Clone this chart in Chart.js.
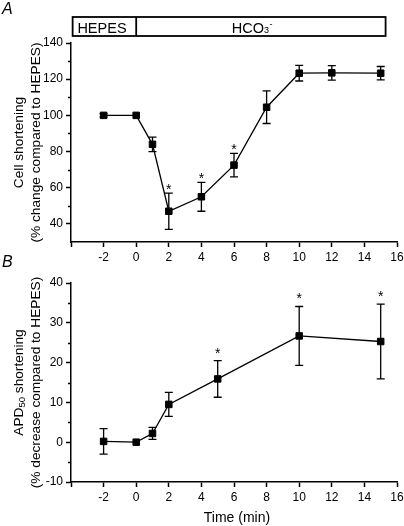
<!DOCTYPE html>
<html>
<head>
<meta charset="utf-8">
<script src="https://cdn.jsdelivr.net/npm/chart.js@4.4.0/dist/chart.umd.min.js"></script>
<style>
  html, body { margin: 0; padding: 0; background: #fff; overflow: hidden; width: 404px; height: 526px; }
  canvas { position: absolute; left: 0; top: 0; }
</style>
</head>
<body>
<canvas id="chartA" width="420" height="526"></canvas>
<canvas id="chartB" width="420" height="526"></canvas>
<script>
// panel A - cell shortening
const timeA = [-2, 0, 1, 2, 4, 6, 8, 10, 12, 15];
const shortA = [100, 100, 84, 47, 55, 72.5, 104.5, 123.3, 123.5, 123.3];
const semA = [1, 0, 4, 10, 8, 6.5, 9, 4.3, 4, 3.7];
const starsA = [2, 4, 6];

// panel B - APD50 shortening
const timeB = [-2, 0, 1, 2, 5, 10, 15];
const apdB = [0.2, 0, 2.2, 9.5, 15.9, 26.7, 25.3];
const semB = [3.2, 0, 1.5, 3, 4.6, 7.4, 9.4];
const starsB = [5, 10, 15];

const xTicks = [-4, -2, 0, 2, 4, 6, 8, 10, 12, 14, 16];
const xLabels = ['', '-2', '0', '2', '4', '6', '8', '10', '12', '14', '16'];
const yTicksA = [40, 60, 80, 100, 120, 140];
const yMinorA = [50, 70, 90, 110, 130];
const yTicksB = [-10, 0, 10, 20, 30, 40];
const yMinorB = [-5, 5, 15, 25, 35];

// solution bar over panel A
const phaseNames = ['HEPES', 'HCO3'];
const phaseEdges = [-3.9, 0, 15.3];
const phaseLabelAt = [-2.1, 7.1];

const FONT = '"Liberation Sans", Arial, sans-serif';

function axisOpts(min, max, ticks, labels) {
  return {
    type: 'linear',
    min: min,
    max: max,
    afterBuildTicks: s => { s.ticks = ticks.map(v => ({ value: v })); },
    ticks: {
      autoSkip: false,
      maxRotation: 0,
      padding: 3,
      color: '#000',
      font: { family: FONT, size: 12 },
      callback: (v, i) => labels ? labels[i] : String(v)
    },
    grid: { drawOnChartArea: false, drawTicks: true, tickLength: 5, tickWidth: 1.5, tickColor: '#000' },
    border: { display: true, color: '#000', width: 1.5 }
  };
}

function drawErrors(chart, times, vals, sems, stars, starGap) {
  const ctx = chart.ctx;
  const xs = chart.scales.x, ys = chart.scales.y;
  ctx.save();
  ctx.strokeStyle = '#000';
  ctx.lineWidth = 1.3;
  times.forEach((t, i) => {
    if (!sems[i]) return;
    const px = xs.getPixelForValue(t);
    const top = ys.getPixelForValue(vals[i] + sems[i]);
    const bot = ys.getPixelForValue(vals[i] - sems[i]);
    ctx.beginPath();
    ctx.moveTo(px, top); ctx.lineTo(px, bot);
    ctx.moveTo(px - 4, top); ctx.lineTo(px + 4, top);
    ctx.moveTo(px - 4, bot); ctx.lineTo(px + 4, bot);
    ctx.stroke();
  });
  ctx.fillStyle = '#000';
  ctx.font = '14px ' + FONT;
  ctx.textAlign = 'center';
  ctx.textBaseline = 'alphabetic';
  stars.forEach(t => {
    const i = times.indexOf(t);
    const top = ys.getPixelForValue(vals[i] + sems[i]);
    ctx.fillText('*', xs.getPixelForValue(t), top - starGap + 8);
  });
  ctx.restore();
}

function drawMinor(chart, minor) {
  const ctx = chart.ctx;
  const ys = chart.scales.y;
  const left = chart.chartArea.left;
  ctx.save();
  ctx.strokeStyle = '#000';
  ctx.lineWidth = 1.5;
  minor.forEach(v => {
    const py = Math.round(ys.getPixelForValue(v)) + 0.5;
    ctx.beginPath();
    ctx.moveTo(left - 3, py); ctx.lineTo(left, py);
    ctx.stroke();
  });
  ctx.restore();
}

function drawYTitle(ctx, x, y, parts) {
  // parts: [text, size, baseline shift]
  ctx.save();
  ctx.translate(x, y);
  ctx.rotate(-Math.PI / 2);
  ctx.fillStyle = '#000';
  ctx.textBaseline = 'middle';
  ctx.textAlign = 'left';
  let w = 0;
  parts.forEach(p => { ctx.font = p[1] + 'px ' + FONT; w += ctx.measureText(p[0]).width; });
  let cx = -w / 2;
  parts.forEach(p => {
    ctx.font = p[1] + 'px ' + FONT;
    ctx.fillText(p[0], cx, p[2]);
    cx += ctx.measureText(p[0]).width;
  });
  ctx.restore();
}

const decorA = {
  id: 'decorA',
  beforeDatasetsDraw(chart) {
    drawErrors(chart, timeA, shortA, semA, starsA, 7);
  },
  afterDraw(chart) {
    const ctx = chart.ctx;
    const xs = chart.scales.x;
    const area = chart.chartArea;
    drawMinor(chart, yMinorA);

    // solution bar
    const x0 = xs.getPixelForValue(phaseEdges[0]);
    const x1 = xs.getPixelForValue(phaseEdges[1]);
    const x2 = xs.getPixelForValue(phaseEdges[2]);
    ctx.save();
    ctx.strokeStyle = '#000';
    ctx.lineWidth = 1.8;
    ctx.strokeRect(x0, 17, x2 - x0, 19);
    ctx.beginPath();
    ctx.moveTo(x1, 17); ctx.lineTo(x1, 36);
    ctx.stroke();
    ctx.fillStyle = '#000';
    ctx.textBaseline = 'alphabetic';
    ctx.textAlign = 'center';
    ctx.font = '14.5px ' + FONT;
    ctx.fillText(phaseNames[0], xs.getPixelForValue(phaseLabelAt[0]), 32.5);
    // HCO3- with subscript 3 and superscript minus
    ctx.textAlign = 'left';
    const big = '14.5px ' + FONT, small = '9px ' + FONT;
    ctx.font = big; const wMain = ctx.measureText('HCO').width;
    ctx.font = small; const w3 = ctx.measureText('3').width;
    const wm = ctx.measureText('-').width;
    let tx = xs.getPixelForValue(phaseLabelAt[1]) - (wMain + w3 + wm) / 2;
    ctx.font = big; ctx.fillText('HCO', tx, 32.5); tx += wMain;
    ctx.font = small; ctx.fillText('3', tx, 32.5); tx += w3;
    ctx.fillText('-', tx + 0.5, 27);
    ctx.restore();

    // panel letter
    ctx.save();
    ctx.fillStyle = '#000';
    ctx.font = 'italic 16px ' + FONT;
    ctx.textBaseline = 'alphabetic';
    ctx.fillText('A', 2, 14);
    ctx.restore();

    const yc = (area.top + area.bottom) / 2;
    drawYTitle(ctx, 19, yc, [['Cell shortening', 13.7, 0]]);
    drawYTitle(ctx, 36, yc, [['(% change compared to HEPES)', 13.7, 0]]);
  }
};

const decorB = {
  id: 'decorB',
  beforeDatasetsDraw(chart) {
    drawErrors(chart, timeB, apdB, semB, starsB, 11);
  },
  afterDraw(chart) {
    const ctx = chart.ctx;
    const area = chart.chartArea;
    drawMinor(chart, yMinorB);
    ctx.save();
    ctx.fillStyle = '#000';
    ctx.font = 'italic 16px ' + FONT;
    ctx.textBaseline = 'alphabetic';
    ctx.fillText('B', 2, 267);
    ctx.font = '14px ' + FONT;
    ctx.textAlign = 'center';
    ctx.fillText('Time (min)', (area.left + area.right) / 2 + 3, 522);
    ctx.restore();
    const yc = (area.top + area.bottom) / 2;
    drawYTitle(ctx, 19, yc, [['APD', 13.7, 0], ['50', 9.5, 3.5], [' shortening', 13.7, 0]]);
    drawYTitle(ctx, 36, yc, [['(% decrease compared to HEPES)', 13.7, 0]]);
  }
};

function makeChart(id, times, vals, yMin, yMax, yTicks, pad, xHeight, plugin) {
  return new Chart(document.getElementById(id), {
    type: 'scatter',
    data: {
      datasets: [{
        data: times.map((t, i) => ({ x: t, y: vals[i] })),
        showLine: true,
        borderColor: '#000',
        borderWidth: 1.3,
        backgroundColor: '#000',
        pointStyle: 'rect',
        pointRadius: 4.6,
        pointBorderWidth: 1,
        pointBorderColor: '#000',
        pointBackgroundColor: '#000'
      }]
    },
    options: {
      responsive: false,
      animation: false,
      devicePixelRatio: 1,
      layout: { padding: pad },
      plugins: { legend: { display: false }, tooltip: { enabled: false } },
      scales: {
        x: Object.assign(axisOpts(-4, 16, xTicks, xLabels), {
          afterFit: s => { s.height = xHeight; }
        }),
        y: Object.assign(axisOpts(yMin, yMax, yTicks, null), {
          afterFit: s => { s.width = 71; }
        })
      }
    },
    plugins: [plugin]
  });
}

makeChart('chartA', timeA, shortA, 30, 140, yTicksA,
  { top: 43, left: 0, right: 23, bottom: 260 }, 24, decorA);
makeChart('chartB', timeB, apdB, -10, 40, yTicksB,
  { top: 283, left: 0, right: 23, bottom: 0 }, 44, decorB);
</script>
</body>
</html>
